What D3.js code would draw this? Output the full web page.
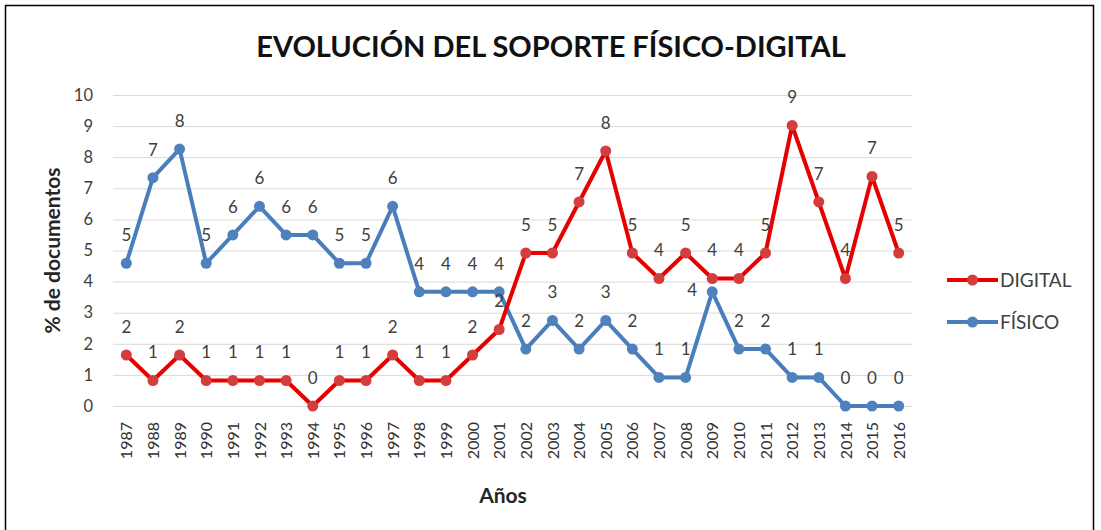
<!DOCTYPE html>
<html>
<head>
<meta charset="utf-8">
<script src="https://cdn.jsdelivr.net/npm/d3@7"></script>
<style>
	body { margin: 0; background: #fff; }
	svg { display: block; }
	text { font-family: Lato, "Open Sans", sans-serif; }
</style>
</head>
<body>
<script>

// Data: % de documentos por año
var years = [1987, 1988, 1989, 1990, 1991, 1992, 1993, 1994, 1995, 1996,
	1997, 1998, 1999, 2000, 2001, 2002, 2003, 2004, 2005, 2006,
	2007, 2008, 2009, 2010, 2011, 2012, 2013, 2014, 2015, 2016];

var digital = [1.64, 0.82, 1.64, 0.82, 0.82, 0.82, 0.82, 0, 0.82, 0.82,
	1.64, 0.82, 0.82, 1.64, 2.46, 4.92, 4.92, 6.56, 8.20, 4.92,
	4.10, 4.92, 4.10, 4.10, 4.92, 9.02, 6.56, 4.10, 7.38, 4.92];

var fisico = [4.59, 7.34, 8.26, 4.59, 5.50, 6.42, 5.50, 5.50, 4.59, 4.59,
	6.42, 3.67, 3.67, 3.67, 3.67, 1.83, 2.75, 1.83, 2.75, 1.83,
	0.92, 0.92, 3.67, 1.83, 1.83, 0.92, 0.92, 0, 0, 0];

var yTicks = [0, 1, 2, 3, 4, 5, 6, 7, 8, 9, 10];

var series = [
	{ name: 'DIGITAL', values: digital, line: '#e60000', marker: '#d43d3d' },
	{ name: 'FÍSICO', values: fisico, line: '#4a7ebb', marker: '#4f81bd' }
];

var dim = { width: 1101, height: 530,
	margins: { left: 113, top: 95, right: 189, bottom: 124 } };
var plotW = dim.width - dim.margins.left - dim.margins.right;
var plotH = dim.height - dim.margins.top - dim.margins.bottom;

var svg = d3.select('body').append('svg')
	.attr('width', dim.width)
	.attr('height', dim.height);

// outer frame
svg.append('rect')
	.attr('x', 5.5).attr('y', 5.5)
	.attr('width', 1088).attr('height', 540)
	.attr('fill', '#fff')
	.attr('stroke', '#000')
	.attr('stroke-width', 1.5);

svg.append('text')
	.attr('x', 551).attr('y', 57)
	.attr('text-anchor', 'middle')
	.attr('font-size', 29)
	.attr('font-weight', 'bold')
	.attr('fill', '#111')
	.text('EVOLUCIÓN DEL SOPORTE FÍSICO-DIGITAL');

var g = svg.append('g')
	.attr('transform', 'translate(' + dim.margins.left + ',' + dim.margins.top + ')');

var x = d3.scalePoint()
	.domain(years)
	.range([0, plotW])
	.padding(0.5);

var y = d3.scaleLinear()
	.domain([0, 10])
	.range([plotH, 0]);

// gridlines + y labels
var yAxis = g.append('g')
	.call(d3.axisLeft(y).tickValues(yTicks).tickSize(-plotW).tickPadding(20));
yAxis.select('.domain').remove();
yAxis.selectAll('.tick line').attr('stroke', '#d9d9d9');
yAxis.selectAll('.tick text')
	.attr('font-size', 16.5)
	.attr('fill', '#404040')
	.style('font-family', 'Lato, sans-serif');

// x labels rotated
var xAxis = g.append('g')
	.attr('transform', 'translate(0,' + plotH + ')')
	.call(d3.axisBottom(x).tickSize(0).tickFormat(d3.format('d')));
xAxis.select('.domain').remove();
xAxis.selectAll('.tick text')
	.attr('transform', 'rotate(-90)')
	.attr('text-anchor', 'end')
	.attr('x', -16)
	.attr('y', 0)
	.attr('dy', '0.35em')
	.attr('font-size', 16)
	.attr('fill', '#333')
	.style('font-family', 'Lato, sans-serif');

// axis titles
svg.append('text')
	.attr('x', 503).attr('y', 503)
	.attr('text-anchor', 'middle')
	.attr('font-size', 21)
	.attr('font-weight', 'bold')
	.attr('fill', '#262626')
	.text('Años');

svg.append('text')
	.attr('transform', 'translate(60,' + (dim.margins.top + plotH / 2) + ') rotate(-90)')
	.attr('text-anchor', 'middle')
	.attr('font-size', 21)
	.attr('font-weight', 'bold')
	.attr('fill', '#262626')
	.text('% de documentos');

var line = d3.line()
	.x(function(d, i){ return x(years[i]); })
	.y(function(d){ return y(d); });

var fmt = d3.format('.0f');

// labels Excel moved to the left of the point to dodge the other line
var leftLabels = { 'FÍSICO': [2009] };

// draw blue first so red sits on top
series.slice().reverse().forEach(function(s){

	var layer = g.append('g');
	var left = leftLabels[s.name] || [];

	layer.append('path')
		.datum(s.values)
		.attr('d', line)
		.attr('fill', 'none')
		.attr('stroke', s.line)
		.attr('stroke-width', 4)
		.attr('stroke-linejoin', 'round');

	layer.selectAll('circle')
		.data(s.values)
		.enter().append('circle')
		.attr('cx', function(d, i){ return x(years[i]); })
		.attr('cy', function(d){ return y(d); })
		.attr('r', 5.5)
		.attr('fill', s.marker);

	layer.selectAll('text')
		.data(s.values)
		.enter().append('text')
		.attr('x', function(d, i){
			return x(years[i]) - (left.indexOf(years[i]) > -1 ? 20 : 0);
		})
		.attr('y', function(d, i){
			return left.indexOf(years[i]) > -1 ? y(d) + 4 : y(d) - 22;
		})
		.attr('text-anchor', 'middle')
		.attr('font-size', 17)
		.attr('fill', '#404040')
		.text(function(d){ return fmt(d); });

});

// legend
var legend = svg.append('g')
	.attr('transform', 'translate(947,280)');

series.forEach(function(s, i){

	var item = legend.append('g')
		.attr('transform', 'translate(0,' + (i * 42) + ')');

	item.append('line')
		.attr('x1', 0).attr('x2', 51)
		.attr('stroke', s.line)
		.attr('stroke-width', 4);

	item.append('circle')
		.attr('cx', 25.5).attr('r', 5.5)
		.attr('fill', s.marker);

	item.append('text')
		.attr('x', 53).attr('dy', '0.35em')
		.attr('font-size', 19)
		.attr('fill', '#404040')
		.text(s.name);

});

</script>
</body>
</html>
